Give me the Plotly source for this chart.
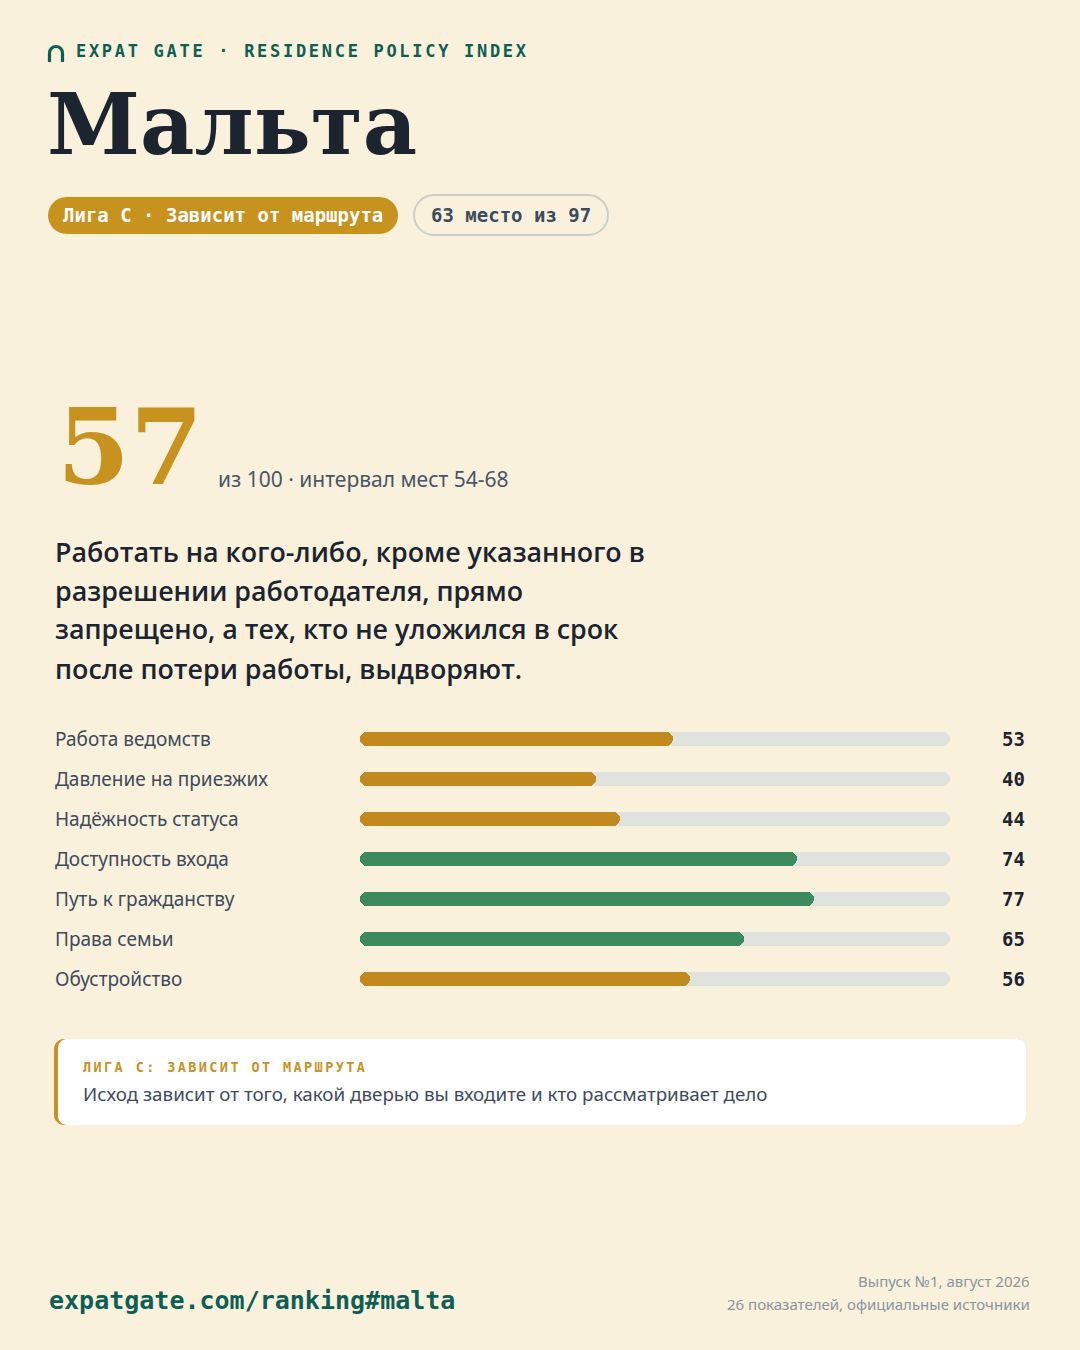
import plotly.graph_objects as go

W, H = 1080, 1350

# ---------------- data ----------------
categories = ["Работа ведомств", "Давление на приезжих", "Надёжность статуса",
              "Доступность входа", "Путь к гражданству", "Права семьи", "Обустройство"]
values = [53, 40, 44, 74, 77, 65, 56]
tiers = ["mid", "mid", "mid", "high", "high", "high", "mid"]
scale_max = 100

country = "Мальта"
score = 57
score_note = "из 100 · интервал мест 54-68"
league_pill = "Лига C · Зависит от маршрута"
rank_pill = "63 место из 97"
summary_lines = ["Работать на кого-либо, кроме указанного в",
                 "разрешении работодателя, прямо",
                 "запрещено, а тех, кто не уложился в срок",
                 "после потери работы, выдворяют."]
callout_title = "ЛИГА C: ЗАВИСИТ ОТ МАРШРУТА"
callout_text = "Исход зависит от того, какой дверью вы входите и кто рассматривает дело"
header = "EXPAT GATE · RESIDENCE POLICY INDEX"
url = "expatgate.com/ranking#malta"
foot1 = "Выпуск №1, август 2026"
foot2 = "26 показателей, официальные источники"

# ---------------- style ----------------
BG = "#F9F1DB"
INK = "#1C2430"
SLATE = "#3E4A5C"
GOLD = "#C8921E"
BAR_GOLD = "#C28A1E"
GREEN = "#3D8A5E"
TRACK = "#DEE4DD"
TEAL = "#0F5E55"
GRAY = "#8A94A0"
tier_color = {"mid": BAR_GOLD, "high": GREEN}

MONO = "DejaVu Sans Mono"
SANS = "Noto Sans"
SERIF = "DejaVu Serif"


def X(px):
    return px / W


def Y(py):
    return 1 - py / H


def rrect(x0, y0, x1, y1, r):
    k = 0.5523 * r
    pts = [
        f"M{X(x0 + r)},{Y(y0)}",
        f"L{X(x1 - r)},{Y(y0)}",
        f"C{X(x1 - r + k)},{Y(y0)} {X(x1)},{Y(y0 + r - k)} {X(x1)},{Y(y0 + r)}",
        f"L{X(x1)},{Y(y1 - r)}",
        f"C{X(x1)},{Y(y1 - r + k)} {X(x1 - r + k)},{Y(y1)} {X(x1 - r)},{Y(y1)}",
        f"L{X(x0 + r)},{Y(y1)}",
        f"C{X(x0 + r - k)},{Y(y1)} {X(x0)},{Y(y1 - r + k)} {X(x0)},{Y(y1 - r)}",
        f"L{X(x0)},{Y(y0 + r)}",
        f"C{X(x0)},{Y(y0 + r - k)} {X(x0 + r - k)},{Y(y0)} {X(x0 + r)},{Y(y0)}",
        "Z",
    ]
    return " ".join(pts)


fig = go.Figure()

idx = list(range(len(categories)))
BARW = 0.35

# track
fig.add_trace(go.Bar(
    y=idx, x=[scale_max] * len(idx), base=[0] * len(idx), orientation="h", width=BARW,
    marker=dict(color=TRACK, cornerradius="50%", line=dict(width=0)),
    hoverinfo="skip", showlegend=False))

# values
cols = [tier_color[t] for t in tiers]
fig.add_trace(go.Bar(
    y=idx, x=values, base=[0] * len(idx), orientation="h", width=BARW,
    marker=dict(color=cols, cornerradius="50%", line=dict(width=0)),
    hoverinfo="skip", showlegend=False))

ann = []


def A(text, x, y, size, color, family, weight="normal", xanchor="left", yanchor="middle", yref="paper", xref="paper"):
    ann.append(dict(text=text, x=x, y=y, xref=xref, yref=yref, xanchor=xanchor, yanchor=yanchor,
                    showarrow=False, font=dict(size=size, color=color, family=family, weight=weight)))


# header
A(f'<span style="letter-spacing:2.7px">{header}</span>', X(74), Y(51), 17, TEAL, MONO, "bold")
A(country, X(45), Y(125), 84, INK, SERIF, "bold")

# pills
A(league_pill, X(223), Y(215), 19, "#FFFFFF", MONO, "bold", xanchor="center")
A(rank_pill, X(511), Y(215), 19, "#3D4B5E", MONO, "bold", xanchor="center")

# score
A(str(score), X(55), Y(447), 105, GOLD, SERIF, "bold")
A(score_note, X(216), Y(479), 21, "#4A5568", SANS)

# summary
for i, line in enumerate(summary_lines):
    A(line, X(53), Y(551 + 39 * i), 26.8, INK, "Open Sans", 600)

# labels + values
for i, (c, v) in enumerate(zip(categories, values)):
    A(c, X(53), i, 19, SLATE, SANS, yref="y")
    A(str(v), X(1027), i, 19, INK, MONO, "bold", xanchor="right", yref="y")

# callout
A(f'<span style="letter-spacing:2.4px">{callout_title}</span>', X(81), Y(1067), 13.5, GOLD, MONO, "bold")
A(callout_text, X(81), Y(1094), 18.8, SLATE, SANS)

# footer
A(url, X(47), Y(1300), 25, TEAL, MONO, "bold")
A(foot1, X(1032), Y(1281), 15, GRAY, SANS, xanchor="right")
A(foot2, X(1032), Y(1304), 15, GRAY, SANS, xanchor="right")

# shapes
k = 0.5523 * 6.5
arch = (f"M{X(49.5)},{Y(62)} L{X(49.5)},{Y(53)} "
        f"C{X(49.5)},{Y(53 - k)} {X(56 - k)},{Y(46.5)} {X(56)},{Y(46.5)} "
        f"C{X(56 + k)},{Y(46.5)} {X(62.5)},{Y(53 - k)} {X(62.5)},{Y(53)} L{X(62.5)},{Y(62)}")
shapes = [
    dict(type="path", path=arch, xref="paper", yref="paper", line=dict(color=TEAL, width=3.2)),
    dict(type="path", path=rrect(48, 197, 398, 234, 18.5), xref="paper", yref="paper",
         fillcolor=GOLD, line=dict(width=0), layer="below"),
    dict(type="path", path=rrect(414, 195, 608, 235, 20), xref="paper", yref="paper",
         fillcolor="rgba(0,0,0,0)", line=dict(color="#C9CFCB", width=2), layer="below"),
    dict(type="path", path=rrect(54, 1039, 1026, 1125, 10), xref="paper", yref="paper",
         fillcolor=GOLD, line=dict(width=0), layer="below"),
    dict(type="path", path=rrect(58, 1039, 1026, 1125, 9), xref="paper", yref="paper",
         fillcolor="#FFFFFF", line=dict(width=0), layer="below"),
]

fig.update_layout(
    width=W, height=H, margin=dict(l=0, r=0, t=0, b=0),
    paper_bgcolor=BG, plot_bgcolor="rgba(0,0,0,0)",
    barmode="overlay", bargap=0,
    xaxis=dict(domain=[X(360), X(950)], range=[0, scale_max], visible=False, fixedrange=True),
    yaxis=dict(domain=[Y(999), Y(719)], range=[len(idx) - 0.5, -0.5], visible=False, fixedrange=True),
    annotations=ann, shapes=shapes, showlegend=False,
)

fig.write_html("out.html", config={"displayModeBar": False},
               post_script="document.body.style.margin='0';document.body.style.background='" + BG + "';")
